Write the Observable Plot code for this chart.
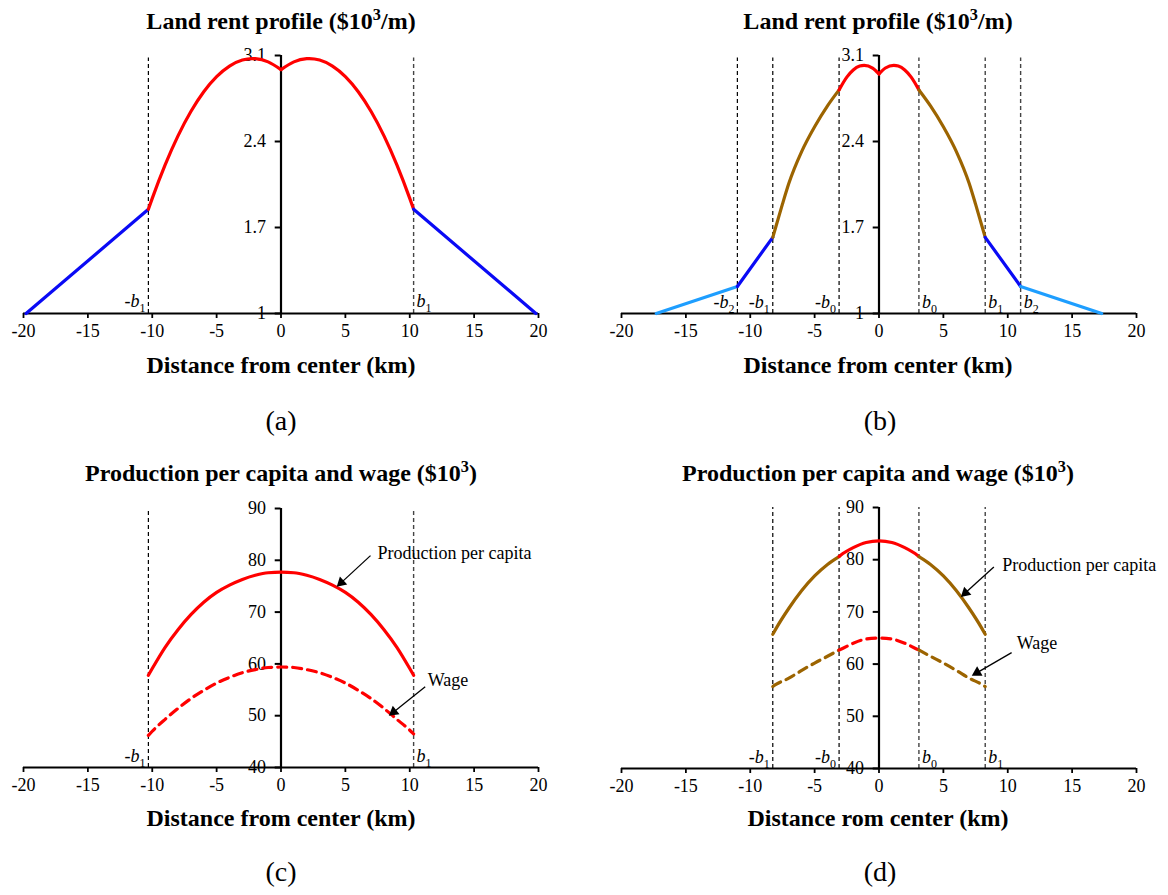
<!DOCTYPE html>
<html><head><meta charset="utf-8">
<script src="https://cdn.jsdelivr.net/npm/d3@7"></script>
<script src="https://cdn.jsdelivr.net/npm/@observablehq/plot@0.6"></script>
<style>
body{margin:0;background:#fff;}
#root{position:relative;width:1168px;height:895px;overflow:hidden;font-family:"Liberation Serif","Times New Roman",serif;color:#000;}
.t{position:absolute;transform:translate(-50%,-50%);white-space:nowrap;line-height:1;}
.title{font-weight:bold;font-size:24px;}
.title sup{font-size:0.68em;vertical-align:0.55em;line-height:0;}
.xl{font-weight:bold;font-size:24px;}
.pl{font-size:28px;}
</style></head><body><div id="root"></div>
<script>
// ---------- shared ticks ----------
const xTicks = [-20,-15,-10,-5,0,5,10,15,20];
const rentTicks = [1,1.7,2.4,3.1];
const moneyTicks = [40,50,60,70,80,90];

// ---------- panel (a): land rent ----------
const aFringeLeftX = [-19.8,-10.3];
const aFringeLeftRent = [1.0,1.848];
const aCityLeftX = [-10.3,-10,-9,-8,-7,-6,-5,-4,-3,-2.2,-2,-1,0];
const aCityLeftRent = [1.848,1.937,2.210,2.446,2.644,2.805,2.928,3.014,3.063,3.075,3.074,3.048,2.985];
const aCityRightX = [0,1,2,2.2,3,4,5,6,7,8,9,10,10.3];
const aCityRightRent = [2.985,3.048,3.074,3.075,3.063,3.014,2.928,2.805,2.644,2.446,2.210,1.937,1.848];
const aFringeRightX = [10.3,19.8];
const aFringeRightRent = [1.848,1.0];
const aBoundaries = [-10.3,10.3];
const aBoundaryNames = ["-b1","b1"];

// ---------- panel (b): land rent ----------
const bOuterLeftX = [-17.3,-11];
const bOuterLeftRent = [1.0,1.22];
const bMidLeftX = [-11,-8.25];
const bMidLeftRent = [1.22,1.62];
const bInnerLeftX = [-8.25,-8,-7.5,-7,-6,-5,-4,-3.1];
const bInnerLeftRent = [1.62,1.71,1.89,2.06,2.32,2.52,2.69,2.82];
const bCoreLeftX = [-3.1,-2.5,-2,-1.5,-1.15,-0.5,0];
const bCoreLeftRent = [2.82,2.924,2.982,3.014,3.02,2.998,2.95];
const bCoreRightX = [0,0.5,1.15,1.5,2,2.5,3.1];
const bCoreRightRent = [2.95,2.998,3.02,3.014,2.982,2.924,2.82];
const bInnerRightX = [3.1,4,5,6,7,7.5,8,8.25];
const bInnerRightRent = [2.82,2.69,2.52,2.32,2.06,1.89,1.71,1.62];
const bMidRightX = [8.25,11];
const bMidRightRent = [1.62,1.22];
const bOuterRightX = [11,17.3];
const bOuterRightRent = [1.22,1.0];
const bBoundaries = [-11,-8.25,-3.1,3.1,8.25,11];
const bBoundaryNames = ["-b2","-b1","-b0","b0","b1","b2"];

// ---------- panel (c): production & wage ----------
const cX = [-10.3,-10,-9,-8,-7,-6,-5,-4,-3,-2,-1,0,1,2,3,4,5,6,7,8,9,10,10.3];
const cProduction = [57.8,59.1,63.2,66.6,69.5,71.9,73.8,75.2,76.3,77.1,77.6,77.7,77.6,77.1,76.3,75.2,73.8,71.9,69.5,66.6,63.2,59.1,57.8];
const cWage = [46.2,47.0,49.3,51.4,53.3,54.9,56.3,57.4,58.3,58.9,59.3,59.4,59.3,58.9,58.3,57.4,56.3,54.9,53.3,51.4,49.3,47.2,46.5];
const cBoundaries = [-10.3,10.3];
const cBoundaryNames = ["-b1","b1"];
const cNotes = [{text:"Production per capita", x:7.5, y:81.3},{text:"Wage", x:11.4, y:56.8}];
const cArrows = [{x1:6.95,y1:80.9,x2:4.34,y2:74.9},{x1:11.2,y1:55.6,x2:8.39,y2:50.0}];

// ---------- panel (d): production & wage ----------
const dCoreX = [-3.1,-3,-2,-1,0,1,2,3,3.1];
const dCoreProduction = [80.6,80.8,82.3,83.3,83.6,83.3,82.3,80.8,80.6];
const dCoreWage = [62.7,62.8,64.0,64.8,65.0,64.8,64.0,62.8,62.7];
const dOuterLeftX = [-8.25,-8,-7,-6,-5,-4,-3.1];
const dOuterLeftProduction = [65.7,66.8,70.7,74.1,76.9,79.1,80.6];
const dOuterLeftWage = [55.7,56.1,57.3,58.8,60.2,61.5,62.7];
const dOuterRightX = [3.1,4,5,6,7,8,8.25];
const dOuterRightProduction = [80.6,79.1,76.9,74.1,70.7,66.8,65.7];
const dOuterRightWage = [62.7,61.5,60.2,58.8,57.3,56.1,55.7];
const dBoundaries = [-8.25,-3.1,3.1,8.25];
const dBoundaryNames = ["-b1","-b0","b0","b1"];
const dNotes = [{text:"Production per capita", x:9.57, y:78.9},{text:"Wage", x:10.7, y:64.0}];
const dArrows = [{x1:8.92,y1:78.6,x2:6.37,y2:72.9},{x1:10.3,y1:62.2,x2:7.22,y2:57.8}];

// ---------- colours ----------
const RED = "#ff0000", BLUE = "#0a0af5", LIGHTBLUE = "#1e9eff", BROWN = "#9c6400";

// ---------- helpers ----------
const root = document.getElementById("root");
function label(html, cls, cx, cy){
  const d = document.createElement("div");
  d.className = "t " + cls; d.innerHTML = html;
  d.style.left = cx + "px"; d.style.top = cy + "px";
  root.appendChild(d);
}
function pts(xs, ys){ return xs.map((x,i)=>({x, y: ys[i]})); }
function seg(xs, ys, stroke, extra={}){
  return Plot.line(pts(xs, ys), {x:"x", y:"y", stroke, strokeWidth:3.2, curve:"monotone-x", ...extra});
}
const ML = 23, MR = 42, W = 580;
const PX_PER_KM = (W - ML - MR) / 40;
function arrowMarks(arrows, pxPerY){
  const rows = arrows.map(a=>{
    const dx = (a.x2 - a.x1) * PX_PER_KM, dy = -(a.y2 - a.y1) * pxPerY;
    const len = Math.hypot(dx, dy), ux = dx/len, uy = dy/len;
    return {...a, hx: a.x2 - 6*ux/PX_PER_KM, hy: a.y2 + 6*uy/pxPerY, angle: Math.atan2(dx, -dy)*180/Math.PI};
  });
  return [
    Plot.link(rows, {x1:"x1", y1:"y1", x2:"hx", y2:"hy", stroke:"#000", strokeWidth:1.3}),
    Plot.dot(rows, {x:"hx", y:"hy", symbol:"triangle", r:4, fill:"#000", stroke:"none", rotate:"angle"})
  ];
}
function panel(o){
  const {left, top, innerH, yDomain, yTicks, dashTop, boundaries, names, nameY, marks} = o;
  const bnd = boundaries.map((x,i)=>({x, name: names[i]}));
  const mt = 20, mb = 35;
  const plot = Plot.plot({
    width: W, height: mt + innerH + mb, marginLeft: ML, marginRight: MR, marginTop: mt, marginBottom: mb,
    x: {domain: [-20, 20]},
    y: {domain: yDomain, axis: null},
    style: {fontFamily: '"Liberation Serif","Times New Roman",serif', fontSize: "18px", color: "#000", background: "none", overflow: "visible"},
    marks: [
      Plot.ruleX(bnd.filter(d=>d.x<0), {x:"x", y1: yDomain[0], y2: dashTop, stroke:"#000", strokeWidth:1.2, strokeDasharray:"4,3"}),
      Plot.ruleX(bnd.filter(d=>d.x>0), {x:"x", y1: yDomain[0], y2: dashTop, stroke:"#444", strokeWidth:1.4, strokeDasharray:"4,3"}),
      Plot.axisX(xTicks, {tickSize:5, tickPadding:6, tickFormat: d=>String(d), label:null, strokeWidth:1.8}),
      Plot.ruleY([yDomain[0]], {stroke:"#000", strokeWidth:2.2}),
      Plot.ruleX([0], {y1: yDomain[0], y2: yDomain[1], stroke:"#000", strokeWidth:2.2}),
      Plot.ruleY(yTicks, {y: d=>d, x1: 0, x2: -0.45, stroke:"#000", strokeWidth:2}),
      Plot.text(yTicks, {x: 0, y: d=>d, dx: -15, textAnchor: "end", text: d=>String(d)}),
      Plot.text(bnd.filter(d=>d.x<0), {x:"x", y: nameY, text:"name", textAnchor:"end", dx:-3, fontSize:18}),
      Plot.text(bnd.filter(d=>d.x>0), {x:"x", y: nameY, text:"name", textAnchor:"start", dx:3, fontSize:18}),
      ...marks
    ]
  });
  plot.querySelectorAll("text").forEach(t=>{
    const m = /^(-?)b(\d)$/.exec(t.textContent);
    if (m) t.innerHTML = `${m[1]}<tspan font-style="italic">b</tspan><tspan font-size="12" dy="5">${m[2]}</tspan>`;
  });
  plot.style.position = "absolute";
  plot.style.left = left + "px"; plot.style.top = top + "px";
  root.appendChild(plot);
}

// ---------- (a) ----------
panel({left:0, top:35, innerH:258, yDomain:[1,3.1], yTicks:rentTicks, dashTop:3.08,
  boundaries:aBoundaries, names:aBoundaryNames, nameY:1.1,
  marks:[
    seg(aFringeLeftX, aFringeLeftRent, BLUE, {curve:"linear"}),
    seg(aCityLeftX, aCityLeftRent, RED),
    seg(aCityRightX, aCityRightRent, RED),
    seg(aFringeRightX, aFringeRightRent, BLUE, {curve:"linear"})
  ]});
// ---------- (b) ----------
panel({left:598, top:35, innerH:258, yDomain:[1,3.1], yTicks:rentTicks, dashTop:3.08,
  boundaries:bBoundaries, names:bBoundaryNames, nameY:1.09,
  marks:[
    seg(bOuterLeftX, bOuterLeftRent, LIGHTBLUE, {curve:"linear"}),
    seg(bMidLeftX, bMidLeftRent, BLUE, {curve:"linear"}),
    seg(bInnerLeftX, bInnerLeftRent, BROWN),
    seg(bCoreLeftX, bCoreLeftRent, RED),
    seg(bCoreRightX, bCoreRightRent, RED),
    seg(bInnerRightX, bInnerRightRent, BROWN),
    seg(bMidRightX, bMidRightRent, BLUE, {curve:"linear"}),
    seg(bOuterRightX, bOuterRightRent, LIGHTBLUE, {curve:"linear"})
  ]});
// ---------- (c) ----------
panel({left:0, top:488, innerH:259, yDomain:[40,90], yTicks:moneyTicks, dashTop:90,
  boundaries:cBoundaries, names:cBoundaryNames, nameY:42.2,
  marks:[
    seg(cX, cProduction, RED),
    seg(cX, cWage, RED, {strokeDasharray:"9,6"}),
    Plot.text(cNotes, {x:"x", y:"y", text:"text", textAnchor:"start", fontSize:18}),
    ...arrowMarks(cArrows, 259/50)
  ]});
// ---------- (d) ----------
panel({left:598, top:487, innerH:261, yDomain:[40,90], yTicks:moneyTicks, dashTop:90,
  boundaries:dBoundaries, names:dBoundaryNames, nameY:42.2,
  marks:[
    seg(dOuterLeftX, dOuterLeftProduction, BROWN),
    seg(dCoreX, dCoreProduction, RED),
    seg(dOuterRightX, dOuterRightProduction, BROWN),
    seg(dOuterLeftX, dOuterLeftWage, BROWN, {strokeDasharray:"9,6"}),
    seg(dCoreX, dCoreWage, RED, {strokeDasharray:"9,6"}),
    seg(dOuterRightX, dOuterRightWage, BROWN, {strokeDasharray:"9,6"}),
    Plot.text(dNotes, {x:"x", y:"y", text:"text", textAnchor:"start", fontSize:18}),
    ...arrowMarks(dArrows, 261/50)
  ]});

// ---------- titles & labels ----------
label('Land rent profile ($10<sup>3</sup>/m)', 'title', 281, 21);
label('Land rent profile ($10<sup>3</sup>/m)', 'title', 878, 21);
label('Production per capita and wage ($10<sup>3</sup>)', 'title', 281, 473);
label('Production per capita and wage ($10<sup>3</sup>)', 'title', 878, 473);
label('Distance from center (km)', 'xl', 281, 365);
label('Distance from center (km)', 'xl', 878, 365);
label('Distance from center (km)', 'xl', 281, 818);
label('Distance rom center (km)', 'xl', 878, 818);
label('(a)', 'pl', 281, 421);
label('(b)', 'pl', 880, 421);
label('(c)', 'pl', 281, 872);
label('(d)', 'pl', 880, 872);
</script></body></html>
